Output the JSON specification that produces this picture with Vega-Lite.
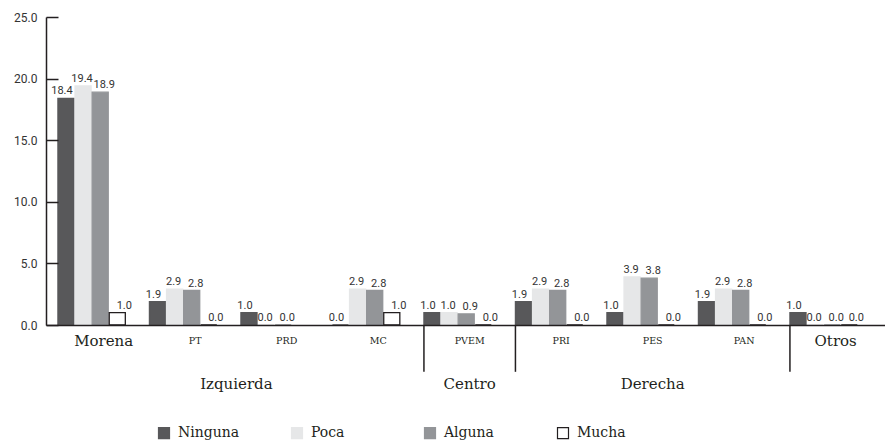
{
  "$schema": "https://vega.github.io/schema/vega-lite/v6.json",
  "width": 839,
  "height": 308,
  "autosize": {"type": "none"},
  "padding": {"left": 46, "top": 17, "right": 0, "bottom": 116},
  "background": "white",
  "config": {"view": {"stroke": null}},
  "datasets": {
    "main": [
      {"party": "Morena", "cat": "Ninguna", "value": 18.4},
      {"party": "Morena", "cat": "Poca", "value": 19.4},
      {"party": "Morena", "cat": "Alguna", "value": 18.9},
      {"party": "Morena", "cat": "Mucha", "value": 1.0},
      {"party": "PT", "cat": "Ninguna", "value": 1.9},
      {"party": "PT", "cat": "Poca", "value": 2.9},
      {"party": "PT", "cat": "Alguna", "value": 2.8},
      {"party": "PT", "cat": "Mucha", "value": 0.0},
      {"party": "PRD", "cat": "Ninguna", "value": 1.0},
      {"party": "PRD", "cat": "Poca", "value": 0.0},
      {"party": "PRD", "cat": "Alguna", "value": 0.0},
      {"party": "PRD", "cat": "Mucha", "value": null},
      {"party": "MC", "cat": "Ninguna", "value": 0.0},
      {"party": "MC", "cat": "Poca", "value": 2.9},
      {"party": "MC", "cat": "Alguna", "value": 2.8},
      {"party": "MC", "cat": "Mucha", "value": 1.0},
      {"party": "PVEM", "cat": "Ninguna", "value": 1.0},
      {"party": "PVEM", "cat": "Poca", "value": 1.0},
      {"party": "PVEM", "cat": "Alguna", "value": 0.9},
      {"party": "PVEM", "cat": "Mucha", "value": 0.0},
      {"party": "PRI", "cat": "Ninguna", "value": 1.9},
      {"party": "PRI", "cat": "Poca", "value": 2.9},
      {"party": "PRI", "cat": "Alguna", "value": 2.8},
      {"party": "PRI", "cat": "Mucha", "value": 0.0},
      {"party": "PES", "cat": "Ninguna", "value": 1.0},
      {"party": "PES", "cat": "Poca", "value": 3.9},
      {"party": "PES", "cat": "Alguna", "value": 3.8},
      {"party": "PES", "cat": "Mucha", "value": 0.0},
      {"party": "PAN", "cat": "Ninguna", "value": 1.9},
      {"party": "PAN", "cat": "Poca", "value": 2.9},
      {"party": "PAN", "cat": "Alguna", "value": 2.8},
      {"party": "PAN", "cat": "Mucha", "value": 0.0},
      {"party": "Otros", "cat": "Ninguna", "value": 1.0},
      {"party": "Otros", "cat": "Poca", "value": 0.0},
      {"party": "Otros", "cat": "Alguna", "value": 0.0},
      {"party": "Otros", "cat": "Mucha", "value": 0.0}
    ],
    "separators": [
      {"party": "PVEM"},
      {"party": "PRI"},
      {"party": "Otros"}
    ],
    "groupA": [
      {"party": "PT", "label": "Izquierda"}
    ],
    "groupB": [
      {"party": "PVEM", "label": "Centro"},
      {"party": "PES", "label": "Derecha"}
    ]
  },
  "layer": [
    {
      "data": {"name": "main"},
      "transform": [{"filter": "datum.value != null"}],
      "mark": {"type": "bar", "strokeWidth": 1.3},
      "encoding": {
        "x": {
          "field": "party", "type": "nominal", "title": null,
          "scale": {"domain": ["Morena", "PT", "PRD", "MC", "PVEM", "PRI", "PES", "PAN", "Otros"], "paddingInner": 0, "paddingOuter": 0.0847, "align": 0.77},
          "axis": {
            "title": null, "ticks": false, "domainColor": "#231f20", "domainWidth": 1.5, "zindex": 1,
            "labelAngle": 0, "labelPadding": 15, "labelBaseline": "middle",
            "labelFont": "DejaVu Serif",
            "labelFontSize": {"condition": {"test": "datum.value === 'Morena' || datum.value === 'Otros'", "value": 15}, "value": 9.5},
            "labelColor": "#231f20"
          }
        },
        "xOffset": {
          "field": "cat", "type": "nominal",
          "scale": {"domain": ["Ninguna", "Poca", "Alguna", "Mucha"], "paddingInner": 0.06, "paddingOuter": 0.705, "align": 0}
        },
        "y": {
          "field": "value", "type": "quantitative", "title": null,
          "scale": {"domain": [0, 25]},
          "axis": {
            "title": null, "values": [0, 5, 10, 15, 20, 25], "format": ".1f", "grid": false, "zindex": 1,
            "domainColor": "#231f20", "domainWidth": 1.5, "tickColor": "#231f20", "tickWidth": 1.5,
            "tickSize": -12, "labelPadding": 21, "labelFont": "Roboto", "labelFontSize": 12, "labelColor": "#333333"
          }
        },
        "fill": {
          "field": "cat", "type": "nominal",
          "scale": {"domain": ["Ninguna", "Poca", "Alguna", "Mucha"], "range": ["#58585a", "#e6e7e8", "#939598", "#ffffff"]},
          "legend": {
            "title": null, "orient": "none", "legendX": 111, "legendY": 409, "direction": "horizontal",
            "columns": 4, "gridAlign": "all", "columnPadding": 49, "symbolType": "square", "symbolSize": 121,
            "symbolStrokeWidth": 1.2, "labelFont": "DejaVu Serif", "labelFontSize": 14,
            "labelColor": "#231f20", "labelOffset": 7, "padding": 0
          }
        },
        "stroke": {
          "field": "cat", "type": "nominal",
          "scale": {"domain": ["Ninguna", "Poca", "Alguna", "Mucha"], "range": ["#58585a", "#e6e7e8", "#939598", "#231f20"]},
          "legend": {
            "title": null, "orient": "none", "legendX": 111, "legendY": 409, "direction": "horizontal",
            "columns": 4, "gridAlign": "all", "columnPadding": 49, "symbolType": "square", "symbolSize": 121,
            "symbolStrokeWidth": 1.2, "labelFont": "DejaVu Serif", "labelFontSize": 14,
            "labelColor": "#231f20", "labelOffset": 7, "padding": 0
          }
        }
      }
    },
    {
      "data": {"name": "main"},
      "transform": [{"filter": "datum.value != null && datum.cat === 'Ninguna'"}],
      "mark": {"type": "text", "baseline": "alphabetic", "dy": -4, "dx": -4, "font": "Roboto", "fontSize": 11, "fill": "#333333"},
      "encoding": {
        "x": {"field": "party", "type": "nominal", "title": null, "scale": {"domain": ["Morena", "PT", "PRD", "MC", "PVEM", "PRI", "PES", "PAN", "Otros"], "paddingInner": 0, "paddingOuter": 0.0847, "align": 0.77}},
        "xOffset": {"field": "cat", "type": "nominal", "scale": {"domain": ["Ninguna", "Poca", "Alguna", "Mucha"], "paddingInner": 0.06, "paddingOuter": 0.705, "align": 0}},
        "y": {"field": "value", "type": "quantitative", "title": null, "scale": {"domain": [0, 25]}},
        "text": {"field": "value", "type": "quantitative", "format": ".1f"}
      }
    },
    {
      "data": {"name": "main"},
      "transform": [{"filter": "datum.value != null && datum.cat === 'Poca'"}],
      "mark": {"type": "text", "baseline": "alphabetic", "dy": -4, "dx": -1, "font": "Roboto", "fontSize": 11, "fill": "#333333"},
      "encoding": {
        "x": {"field": "party", "type": "nominal", "title": null, "scale": {"domain": ["Morena", "PT", "PRD", "MC", "PVEM", "PRI", "PES", "PAN", "Otros"], "paddingInner": 0, "paddingOuter": 0.0847, "align": 0.77}},
        "xOffset": {"field": "cat", "type": "nominal", "scale": {"domain": ["Ninguna", "Poca", "Alguna", "Mucha"], "paddingInner": 0.06, "paddingOuter": 0.705, "align": 0}},
        "y": {"field": "value", "type": "quantitative", "title": null, "scale": {"domain": [0, 25]}},
        "text": {"field": "value", "type": "quantitative", "format": ".1f"}
      }
    },
    {
      "data": {"name": "main"},
      "transform": [{"filter": "datum.value != null && datum.cat === 'Alguna'"}],
      "mark": {"type": "text", "baseline": "alphabetic", "dy": -4, "dx": 4, "font": "Roboto", "fontSize": 11, "fill": "#333333"},
      "encoding": {
        "x": {"field": "party", "type": "nominal", "title": null, "scale": {"domain": ["Morena", "PT", "PRD", "MC", "PVEM", "PRI", "PES", "PAN", "Otros"], "paddingInner": 0, "paddingOuter": 0.0847, "align": 0.77}},
        "xOffset": {"field": "cat", "type": "nominal", "scale": {"domain": ["Ninguna", "Poca", "Alguna", "Mucha"], "paddingInner": 0.06, "paddingOuter": 0.705, "align": 0}},
        "y": {"field": "value", "type": "quantitative", "title": null, "scale": {"domain": [0, 25]}},
        "text": {"field": "value", "type": "quantitative", "format": ".1f"}
      }
    },
    {
      "data": {"name": "main"},
      "transform": [{"filter": "datum.value != null && datum.cat === 'Mucha'"}],
      "mark": {"type": "text", "baseline": "alphabetic", "dy": -4, "dx": 7, "font": "Roboto", "fontSize": 11, "fill": "#333333"},
      "encoding": {
        "x": {"field": "party", "type": "nominal", "title": null, "scale": {"domain": ["Morena", "PT", "PRD", "MC", "PVEM", "PRI", "PES", "PAN", "Otros"], "paddingInner": 0, "paddingOuter": 0.0847, "align": 0.77}},
        "xOffset": {"field": "cat", "type": "nominal", "scale": {"domain": ["Ninguna", "Poca", "Alguna", "Mucha"], "paddingInner": 0.06, "paddingOuter": 0.705, "align": 0}},
        "y": {"field": "value", "type": "quantitative", "title": null, "scale": {"domain": [0, 25]}},
        "text": {"field": "value", "type": "quantitative", "format": ".1f"}
      }
    },
    {
      "data": {"name": "separators"},
      "mark": {"type": "rule", "color": "#231f20", "strokeWidth": 1.5},
      "encoding": {
        "x": {"field": "party", "type": "nominal", "title": null, "bandPosition": 0, "scale": {"domain": ["Morena", "PT", "PRD", "MC", "PVEM", "PRI", "PES", "PAN", "Otros"], "paddingInner": 0, "paddingOuter": 0.0847, "align": 0.77}},
        "y": {"datum": 0, "type": "quantitative", "title": null, "scale": {"domain": [0, 25]}},
        "y2": {"datum": -3.8}
      }
    },
    {
      "data": {"name": "groupA"},
      "mark": {"type": "text", "baseline": "middle", "align": "center", "font": "DejaVu Serif", "fontSize": 15, "fill": "#231f20"},
      "encoding": {
        "x": {"field": "party", "type": "nominal", "title": null, "bandPosition": 0.95, "scale": {"domain": ["Morena", "PT", "PRD", "MC", "PVEM", "PRI", "PES", "PAN", "Otros"], "paddingInner": 0, "paddingOuter": 0.0847, "align": 0.77}},
        "y": {"datum": -4.8, "type": "quantitative", "title": null, "scale": {"domain": [0, 25]}},
        "text": {"field": "label", "type": "nominal"}
      }
    },
    {
      "data": {"name": "groupB"},
      "mark": {"type": "text", "baseline": "middle", "align": "center", "font": "DejaVu Serif", "fontSize": 15, "fill": "#231f20"},
      "encoding": {
        "x": {"field": "party", "type": "nominal", "title": null, "bandPosition": 0.5, "scale": {"domain": ["Morena", "PT", "PRD", "MC", "PVEM", "PRI", "PES", "PAN", "Otros"], "paddingInner": 0, "paddingOuter": 0.0847, "align": 0.77}},
        "y": {"datum": -4.8, "type": "quantitative", "title": null, "scale": {"domain": [0, 25]}},
        "text": {"field": "label", "type": "nominal"}
      }
    }
  ]
}
